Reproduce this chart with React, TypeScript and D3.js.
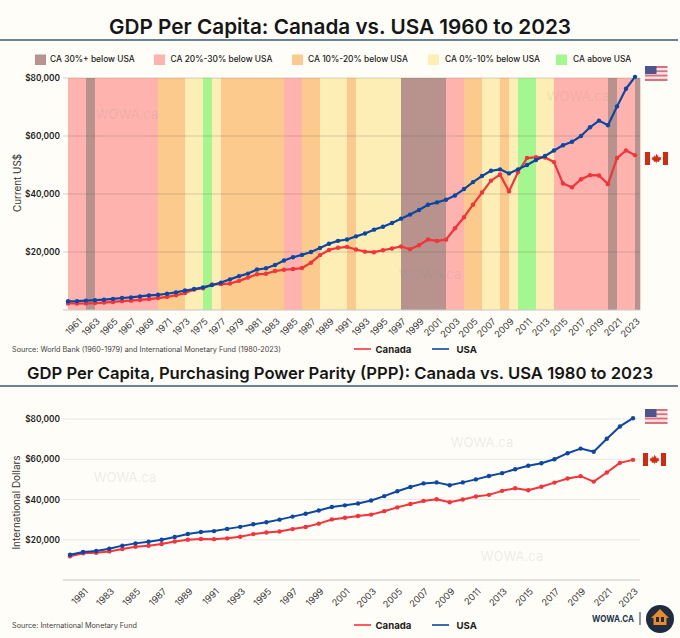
import * as React from 'react';
import {useEffect, useRef} from 'react';
import * as d3 from 'd3';

const width = 680;
const height = 638;
const font = 'Inter, sans-serif';

const bandKeys = ['30', '20', '10', '0', 'above'];
const bandLabels = ['CA 30%+ below USA', 'CA 20%-30% below USA', 'CA 10%-20% below USA', 'CA 0%-10% below USA', 'CA above USA'];
const bandColors = ['#b8938d', '#ffb3ae', '#fdca8e', '#fdeeb5', '#a4f78f'];

const gdpYears = d3.range(1960, 2024);
const gdpBands = [
  '20', '20', '30', '20', '20', '20', '20', '20', '20', '20',
  '10', '10', '10', '0', '0', 'above', '0', '10', '10', '10',
  '10', '10', '10', '10', '20', '20', '10', '10', '0', '0',
  '0', '10', '0', '0', '0', '0', '0', '30', '30', '30',
  '30', '30', '20', '20', '10', '10', '0', '0', '10', '0',
  'above', 'above', '0', '0', '20', '20', '20', '20', '20', '20',
  '30', '20', '20', '30'
];
const gdpCanada = [
  2259, 2240, 2269, 2374, 2555, 2770, 3047, 3217, 3463, 3764,
  4122, 4520, 5089, 5838, 7033, 7511, 8809, 8919, 9124, 10043,
  11171, 12337, 12480, 13425, 13878, 14115, 14461, 16309, 18936, 20715,
  21448, 21768, 20880, 20121, 19935, 20613, 21227, 21901, 20963, 22315,
  24297, 23822, 24255, 28200, 32000, 36300, 40500, 44600, 46700, 40900,
  47500, 52400, 52700, 52600, 51000, 43600, 42300, 45100, 46500, 46400,
  43400, 52400, 55000, 53400
];
const gdpUsa = [
  3007, 3067, 3244, 3375, 3574, 3828, 4146, 4336, 4696, 5032,
  5234, 5609, 6094, 6726, 7226, 7801, 8592, 9453, 10565, 11674,
  12553, 13949, 14405, 15514, 17086, 18200, 19000, 20000, 21360, 22850,
  23850, 24300, 25400, 26400, 27700, 28700, 30000, 31500, 32900, 34500,
  36300, 37100, 38000, 39500, 41700, 44100, 46200, 48000, 48500, 47100,
  48500, 50000, 51700, 53100, 55000, 56800, 58000, 60000, 63000, 65300,
  63700, 70200, 76300, 80400
];

const pppYears = d3.range(1980, 2024);
const pppCanada = [
  11800, 13300, 13500, 14200, 15400, 16500, 17000, 17900, 19100, 20000,
  20400, 20300, 20700, 21500, 22800, 23600, 24100, 25300, 26300, 28000,
  30100, 30900, 31800, 32500, 34200, 36100, 37800, 39300, 40100, 38600,
  40000, 41500, 42300, 44300, 45600, 44600, 46300, 48400, 50400, 51600,
  48900, 53400, 58200, 59700
];
const pppUsa = [
  12550, 13950, 14400, 15500, 17080, 18200, 19000, 20000, 21400, 22850,
  23850, 24300, 25400, 26400, 27700, 28700, 30000, 31500, 32900, 34500,
  36300, 37100, 38000, 39500, 41700, 44100, 46200, 48000, 48500, 47100,
  48500, 50000, 51700, 53100, 55000, 56800, 58000, 60000, 63000, 65300,
  63700, 70200, 76300, 80400
];

const yTicks = [20000, 40000, 60000, 80000];
const red = '#f5333a';
const blue = '#0d47a1';

const mapleLeaf = 'M0,-5 L1,-3 L2,-3.5 L1.6,-1 L3,-2 L3.4,-1 L5,-1.2 L4.4,0.3 L5,0.8 L2.5,2.6 L2.8,3.6 L0.3,3.2 L0.3,5 L-0.3,5 L-0.3,3.2 L-2.8,3.6 L-2.5,2.6 L-5,0.8 L-4.4,0.3 L-5,-1.2 L-3.4,-1 L-3,-2 L-2,-3.5 L-1.6,-1 Z';

const usFlag = (svg: any, x: number, y: number) => {
  const w = 22.5;
  const h = 15;
  const g = svg.append('g').attr('transform', `translate(${x},${y})`);
  d3.range(7).forEach(i => {
    g.append('rect').attr('y', i * h / 7).attr('width', w).attr('height', h / 7)
      .attr('fill', i % 2 ? '#f8e6e2' : '#d8707f');
  });
  g.append('rect').attr('width', 11.5).attr('height', 8).attr('fill', '#4c5590');
};

const caFlag = (svg: any, x: number, y: number) => {
  const w = 23;
  const h = 13;
  const g = svg.append('g').attr('transform', `translate(${x},${y})`);
  g.append('rect').attr('width', 5).attr('height', h).attr('fill', '#d22a10');
  g.append('rect').attr('x', w - 5).attr('width', 5).attr('height', h).attr('fill', '#d22a10');
  g.append('path').attr('transform', `translate(${w / 2},${h / 2}) scale(0.95)`).attr('d', mapleLeaf).attr('fill', '#d22a10');
};

const drawChart = (svg: any, opts: any) => {
  const {years, canada, usa, x, y, x0, x1, rule, yLabel, labelX, labelY, labelSize, lineWidth} = opts;

  const gridG = svg.append('g');
  const axisY = d3.axisLeft(y).tickValues(yTicks).tickSize(0).tickFormat((d: any) => '$' + d3.format(',')(d));
  const yG = svg.append('g').attr('transform', `translate(${x0 - 7},0)`).call(axisY);
  yG.select('.domain').remove();
  yG.selectAll('text').attr('font-family', font).attr('font-size', 8.3).attr('font-weight', 600).attr('fill', '#222').attr('x', -1);

  gridG.selectAll('line').data(yTicks).join('line')
    .attr('x1', x0 - 5).attr('x2', x1)
    .attr('y1', (d: number) => y(d)).attr('y2', (d: number) => y(d))
    .attr('stroke', rule).attr('stroke-width', 0.9);

  const axisX = d3.axisBottom(x).tickValues(years.filter((d: number) => d % 2 === 1)).tickSize(0).tickFormat(d3.format('d') as any);
  const xG = svg.append('g').attr('transform', `translate(0,${y(0)})`).call(axisX);
  xG.select('.domain').remove();
  xG.selectAll('text')
    .attr('font-family', font).attr('font-size', 9.2).attr('fill', '#3a3a3a')
    .attr('text-anchor', 'end')
    .attr('transform', 'translate(-1,6) rotate(-45)')
    .attr('dy', '0.6em');
  svg.append('line').attr('x1', x0 - 5).attr('x2', x1).attr('y1', y(0)).attr('y2', y(0))
    .attr('stroke', '#c9c7c2').attr('stroke-width', 1);

  svg.append('text')
    .attr('transform', `translate(${labelX},${labelY}) rotate(-90)`)
    .attr('text-anchor', 'middle')
    .attr('font-family', font).attr('font-size', labelSize).attr('fill', '#333')
    .text(yLabel);

  const line = d3.line<number>().x((_, i) => x(years[i])).y(d => y(d));
  [[canada, red], [usa, blue]].forEach(([series, color]: any) => {
    svg.append('path').attr('d', line(series)).attr('fill', 'none')
      .attr('stroke', color).attr('stroke-width', lineWidth).attr('stroke-linejoin', 'round');
    svg.append('g').selectAll('circle').data(series).join('circle')
      .attr('cx', (_: any, i: number) => x(years[i]))
      .attr('cy', (d: number) => y(d))
      .attr('r', 2.2).attr('fill', color);
  });
};

const seriesLegend = (svg: any, y: number) => {
  const item = (x: number, color: string, label: string, lx: number) => {
    svg.append('line').attr('x1', x).attr('x2', x + 17).attr('y1', y).attr('y2', y)
      .attr('stroke', color).attr('stroke-width', 1.6);
    svg.append('text').attr('x', lx).attr('y', y + 3.6)
      .attr('font-family', font).attr('font-size', 9.6).attr('font-weight', 700).attr('fill', '#1c1c1c')
      .text(label);
  };
  item(354, red, 'Canada', 375.5);
  item(432, blue, 'USA', 456.5);
};

const watermark = (svg: any, x: number, y: number) => {
  svg.append('text').attr('x', x).attr('y', y).attr('text-anchor', 'middle')
    .attr('font-family', font).attr('font-size', 13).attr('fill', '#8a8a8a').attr('fill-opacity', 0.16)
    .text('WOWA.ca');
};

export default function App() {
  const ref = useRef<SVGSVGElement>(null);

  useEffect(() => {
    const svg = d3.select(ref.current);
    svg.selectAll('*').remove();

    svg.append('rect').attr('width', width).attr('height', height).attr('fill', '#fffdf7');

    const title = (text: string, y: number, size: number, w: number) => {
      svg.append('text').attr('x', 340).attr('y', y).attr('text-anchor', 'middle')
        .attr('font-family', font).attr('font-size', size).attr('font-weight', 600).attr('fill', '#161616')
        .attr('textLength', w).attr('lengthAdjust', 'spacingAndGlyphs')
        .text(text);
    };
    title('GDP Per Capita: Canada vs. USA 1960 to 2023', 34, 20.5, 462);
    title('GDP Per Capita, Purchasing Power Parity (PPP): Canada vs. USA 1980 to 2023', 379, 16.5, 626);

    [40, 386].forEach(y => {
      svg.append('line').attr('x1', 0).attr('x2', 678).attr('y1', y).attr('y2', y)
        .attr('stroke', '#3c5878').attr('stroke-width', 1.6);
    });

    // band legend
    const legendX = [35, 154, 292, 428, 556];
    const legendText = [50, 170.5, 308, 445, 573];
    bandKeys.forEach((k, i) => {
      svg.append('rect').attr('x', legendX[i]).attr('y', 54.5).attr('width', 11).attr('height', 10.5).attr('fill', bandColors[i]);
      svg.append('text').attr('x', legendText[i]).attr('y', 62.3)
        .attr('font-family', font).attr('font-size', 8.4).attr('font-weight', 500).attr('fill', '#222')
        .text(bandLabels[i]);
    });

    // top chart
    const x1 = d3.scaleLinear().domain([1960, 2023]).range([68, 635]);
    const y1 = d3.scaleLinear().domain([0, 80000]).range([310, 78]);
    const bandColor = d3.scaleOrdinal<string>().domain(bandKeys).range(bandColors);
    svg.append('g').selectAll('rect').data(gdpYears).join('rect')
      .attr('x', d => x1(d))
      .attr('y', y1(80000))
      .attr('width', d => Math.min(x1(d + 1), 640) - x1(d) + 0.3)
      .attr('height', y1(0) - y1(80000))
      .attr('fill', (_, i) => bandColor(gdpBands[i]));

    watermark(svg, 127, 119);
    watermark(svg, 578, 101);
    watermark(svg, 430, 279);

    drawChart(svg, {
      years: gdpYears, canada: gdpCanada, usa: gdpUsa, x: x1, y: y1,
      x0: 68, x1: 640, rule: 'rgba(90,80,70,0.28)', yLabel: 'Current US$',
      labelX: 21, labelY: 183, labelSize: 9.9, lineWidth: 2.2
    });

    // bottom chart
    const x2 = d3.scaleLinear().domain([1980, 2023]).range([70, 633]);
    const y2 = d3.scaleLinear().domain([0, 80000]).range([580, 419]);
    watermark(svg, 125, 482);
    watermark(svg, 482, 447);
    watermark(svg, 512, 561);
    drawChart(svg, {
      years: pppYears, canada: pppCanada, usa: pppUsa, x: x2, y: y2,
      x0: 68, x1: 640, rule: '#e6e4de', yLabel: 'International Dollars',
      labelX: 20, labelY: 502.5, labelSize: 10, lineWidth: 2
    });

    seriesLegend(svg, 349);
    seriesLegend(svg, 625);

    const source = (text: string, y: number) => {
      svg.append('text').attr('x', 12).attr('y', y)
        .attr('font-family', font).attr('font-size', 7.25).attr('fill', '#444')
        .text(text);
    };
    source('Source: World Bank (1960-1979) and International Monetary Fund (1980-2023)', 352);
    source('Source: International Monetary Fund', 628);

    usFlag(svg, 645, 66);
    caFlag(svg, 645, 152);
    usFlag(svg, 645, 409);
    caFlag(svg, 643, 453);

    // logo
    svg.append('text').attr('x', 592).attr('y', 621.5)
      .attr('font-family', font).attr('font-size', 9.4).attr('font-weight', 700).attr('fill', '#24364f')
      .attr('textLength', 42).attr('lengthAdjust', 'spacingAndGlyphs')
      .text('WOWA.CA');
    svg.append('line').attr('x1', 640).attr('x2', 640).attr('y1', 612).attr('y2', 625)
      .attr('stroke', '#24364f').attr('stroke-width', 1);
    svg.append('circle').attr('cx', 660).attr('cy', 619).attr('r', 14).attr('fill', '#1f2c3f');
    svg.append('path').attr('d', 'M660,609 L669,618 L666.5,618 L666.5,625 L653.5,625 L653.5,618 L651,618 Z')
      .attr('fill', '#e98a2b');
    svg.append('rect').attr('x', 656).attr('y', 617).attr('width', 3).attr('height', 5).attr('fill', '#1f2c3f');
    svg.append('rect').attr('x', 661).attr('y', 617).attr('width', 3).attr('height', 5).attr('fill', '#1f2c3f');
  }, []);

  return <svg ref={ref} width={width} height={height} style={{position: 'absolute', left: 0, top: 0}} />;
}
